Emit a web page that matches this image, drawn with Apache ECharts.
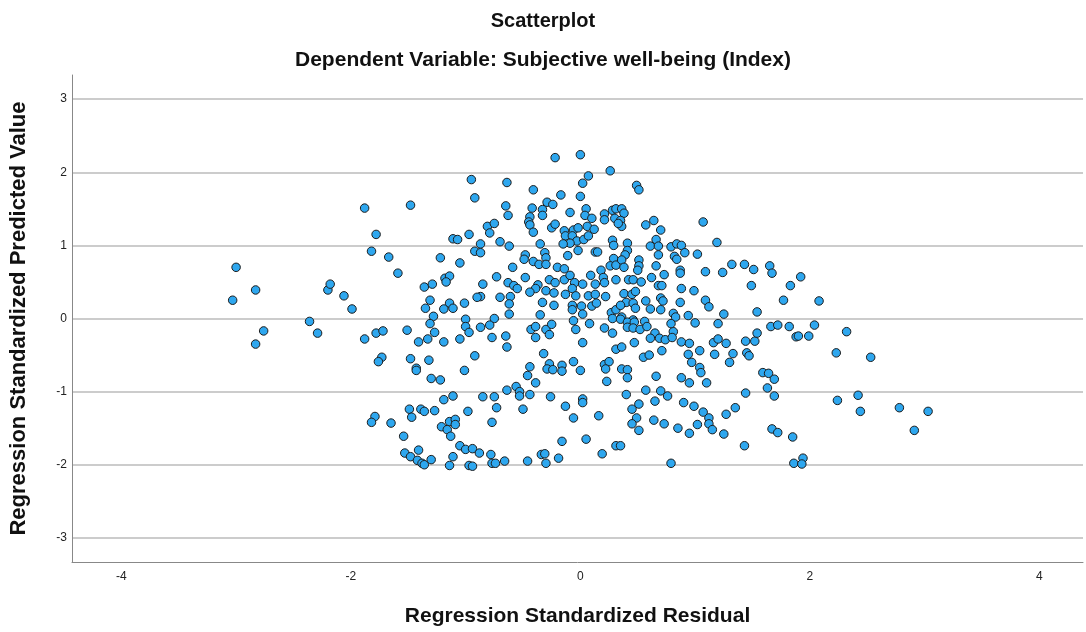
<!DOCTYPE html>
<html>
<head>
<meta charset="utf-8">
<script src="https://cdn.jsdelivr.net/npm/echarts@6/dist/echarts.min.js"></script>
<style>
  html, body { margin: 0; padding: 0; background: #fff; }
  #chart { width: 1086px; height: 632px; }
</style>
</head>
<body>
<div id="chart"></div>
<script>
var chartTitle = 'Scatterplot';
var chartSubtitle = 'Dependent Variable: Subjective well-being (Index)';
var xName = 'Regression Standardized Residual';
var yName = 'Regression Standardized Predicted Value';

// [standardized residual, standardized predicted value]
var points = [
  [-3.00,0.70],[-3.03,0.25],[-1.88,1.51],[-1.48,1.55],[-1.78,1.15],[-1.82,0.92],[-1.67,0.84],[-1.59,0.62],
  [-1.22,0.83],[-2.83,0.39],[-2.20,0.39],[-2.18,0.47],[-2.06,0.31],[-1.99,0.13],[-1.36,0.43],[-1.29,0.47],
  [-1.31,0.25],[-1.35,0.14],[-1.28,0.03],[-1.18,0.55],[-1.14,0.58],[-1.17,0.50],

  [-2.83,-0.35],[-2.76,-0.17],[-2.36,-0.04],[-2.29,-0.20],[-1.88,-0.28],[-1.78,-0.20],[-1.72,-0.17],
  [-1.51,-0.16],[-1.41,-0.32],[-1.33,-0.28],[-1.27,-0.19],[-1.31,-0.07],[-1.73,-0.53],[-1.76,-0.59],
  [-1.48,-0.55],[-1.43,-0.68],[-1.43,-0.71],[-1.32,-0.57],[-1.30,-0.82],[-1.22,-0.84],[-1.79,-1.34],
  [-1.82,-1.42],[-1.65,-1.43],[-1.49,-1.24],[-1.47,-1.35],[-1.39,-1.24],[-1.36,-1.27],[-1.27,-1.26],
  [-1.21,-1.48],[-1.54,-1.61],[-1.53,-1.84],[-1.48,-1.89],[-1.41,-1.80],[-1.42,-1.94],[-1.38,-1.98],
  [-1.36,-2.00],[-1.30,-1.93],

  [-0.22,2.20],[0.00,2.24],[0.26,2.02],[-0.95,1.90],[-0.64,1.86],[-0.92,1.65],[-0.41,1.76],[0.07,1.95],
  [0.02,1.85],[-0.17,1.69],[0.00,1.67],[-0.65,1.54],[-0.63,1.41],[-0.42,1.51],[-0.29,1.59],[-0.24,1.56],
  [-0.33,1.49],[-0.44,1.39],[-0.45,1.32],[-0.44,1.28],[-0.41,1.18],[-0.09,1.45],[-0.33,1.41],[0.05,1.50],
  [0.04,1.41],[0.10,1.37],[0.21,1.43],[0.21,1.35],[0.28,1.48],[0.31,1.50],[0.30,1.37],[-0.81,1.26],
  [-0.75,1.30],[-0.79,1.17],[-0.97,1.15],[-1.11,1.09],[-1.07,1.08],[-0.70,1.05],[-0.62,0.99],[-0.87,1.02],
  [-0.92,0.92],[-0.87,0.90],[-0.25,1.24],[-0.22,1.29],[-0.14,1.20],[-0.06,1.21],[-0.02,1.24],[0.06,1.26],
  [0.12,1.22],[-0.13,1.13],[-0.07,1.13],[-0.03,1.06],[0.03,1.08],[0.07,1.13],[-0.09,1.03],[-0.15,1.02],
  [-0.02,0.93],[-0.35,1.02],[-0.31,0.90],[-0.30,0.83],[-0.11,0.86],[0.13,0.91],[0.15,0.91],[0.28,1.07],
  [0.29,1.00],[0.29,0.82],[-1.05,0.76],[-0.48,0.87],[-0.49,0.81],[-0.41,0.78],[-0.36,0.74],[-0.30,0.74],
  [-0.59,0.70],[-0.20,0.70],[-0.14,0.68],[0.26,0.72],[0.31,0.73],[0.18,0.66],[0.20,0.56],[0.31,0.53],
  [-0.73,0.57],[-0.85,0.47],[-0.48,0.56],[-0.63,0.49],[-0.58,0.45],[-0.55,0.41],[-0.27,0.53],[-0.22,0.49],
  [-0.14,0.53],[-0.09,0.59],[-0.05,0.49],[0.02,0.47],[0.09,0.59],[0.13,0.47],[0.21,0.49],[-0.37,0.46],
  [-0.39,0.41],[-0.44,0.36],[-0.30,0.38],[-0.23,0.35],[-0.13,0.33],[-0.07,0.41],[-0.04,0.31],[0.07,0.31],
  [0.13,0.33],[0.22,0.30],[-0.87,0.30],[-0.90,0.29],[-0.70,0.29],[-0.61,0.30],[-0.62,0.20],[-1.14,0.21],
  [-1.11,0.14],[-1.19,0.13],[-1.01,0.21],[-0.33,0.22],[-0.23,0.18],[-0.07,0.18],[0.01,0.17],[0.10,0.17],
  [0.14,0.21],[0.27,0.08],[0.31,0.12],[-0.35,0.05],[-0.62,0.06],[-0.75,0.00],[-1.00,-0.01],[-0.07,0.12],
  [0.02,0.06],[0.28,0.00],

  [0.49,1.82],[0.51,1.76],[1.07,1.32],[1.19,1.04],[0.36,1.50],[0.38,1.44],[0.35,1.34],[0.36,1.26],
  [0.33,1.30],[0.57,1.28],[0.64,1.34],[0.70,1.21],[0.66,1.08],[0.61,0.99],[0.68,0.99],[0.41,1.03],
  [0.41,0.93],[0.39,0.87],[0.36,0.80],[0.51,0.80],[0.51,0.72],[0.50,0.66],[0.38,0.70],[0.68,0.87],
  [0.79,0.98],[0.84,1.02],[0.88,1.00],[0.91,0.90],[0.82,0.85],[0.84,0.81],[1.02,0.88],[0.66,0.72],
  [0.73,0.60],[0.87,0.66],[0.87,0.62],[1.09,0.64],[1.24,0.63],[1.32,0.74],[1.43,0.74],[1.51,0.67],
  [1.65,0.72],[1.67,0.62],[1.83,0.45],[1.49,0.45],[1.77,0.25],[1.54,0.09],[1.92,0.57],[2.08,0.24],
  [0.42,0.53],[0.46,0.53],[0.53,0.50],[0.62,0.56],[0.68,0.45],[0.71,0.45],[0.88,0.41],[0.99,0.38],
  [0.38,0.34],[0.45,0.33],[0.48,0.37],[0.40,0.22],[0.46,0.21],[0.35,0.18],[0.57,0.24],[0.70,0.28],
  [0.72,0.24],[1.09,0.25],[1.12,0.16],[0.87,0.22],[0.61,0.13],[0.70,0.12],[0.48,0.14],[0.81,0.07],
  [0.83,0.02],[0.94,0.04],[1.25,0.06],[0.36,0.02],[0.46,-0.02],

  [-1.00,-0.11],[-0.97,-0.19],[-1.05,-0.28],[-1.19,-0.32],[-0.87,-0.12],[-0.79,-0.09],[-0.77,-0.26],
  [-0.65,-0.24],[-0.64,-0.39],[-0.92,-0.51],[-1.01,-0.71],[-0.43,-0.15],[-0.39,-0.11],[-0.39,-0.26],
  [-0.30,-0.15],[-0.25,-0.08],[-0.27,-0.22],[-0.06,-0.03],[-0.04,-0.15],[0.08,-0.07],[0.02,-0.33],
  [0.21,-0.13],[0.28,-0.20],[0.31,-0.42],[-0.32,-0.48],[-0.44,-0.66],[-0.46,-0.78],[-0.27,-0.62],
  [-0.29,-0.69],[-0.24,-0.70],[-0.16,-0.64],[-0.16,-0.72],[-0.06,-0.59],[0.00,-0.71],[0.21,-0.63],
  [0.25,-0.59],[0.22,-0.69],[0.23,-0.86],[-0.39,-0.88],[-0.64,-0.98],[-0.56,-0.93],[-0.53,-1.00],
  [-0.53,-1.06],[-0.44,-1.04],[-0.26,-1.07],[-0.85,-1.07],[-0.75,-1.07],[-1.19,-1.11],[-1.11,-1.06],
  [-0.98,-1.27],[-0.73,-1.22],[-0.50,-1.24],[-0.13,-1.20],[0.02,-1.10],[0.02,-1.15],[-0.06,-1.36],
  [0.16,-1.33],[-0.77,-1.42],[-1.14,-1.41],[-1.09,-1.38],[-1.09,-1.45],[-1.16,-1.52],[-1.13,-1.61],
  [-1.05,-1.74],[-1.00,-1.79],[-0.94,-1.78],[-0.88,-1.84],[-1.11,-1.89],[-1.14,-2.01],[-0.97,-2.01],
  [-0.94,-2.02],[-0.78,-1.86],[-0.77,-1.98],[-0.74,-1.98],[-0.66,-1.95],[-0.46,-1.95],[-0.34,-1.86],
  [-0.31,-1.85],[-0.30,-1.98],[-0.19,-1.91],[-0.16,-1.68],[0.05,-1.65],[0.19,-1.85],[0.31,-1.74],

  [0.35,-0.01],[0.41,-0.05],[0.47,-0.05],[0.56,-0.04],[0.41,-0.12],[0.46,-0.13],[0.52,-0.15],[0.58,-0.11],
  [0.65,-0.20],[0.61,-0.27],[0.69,-0.27],[0.74,-0.29],[0.81,-0.18],[0.79,-0.07],[0.80,-0.26],[0.47,-0.33],
  [0.36,-0.39],[0.71,-0.44],[0.55,-0.53],[0.60,-0.50],[0.36,-0.69],[0.41,-0.70],[0.41,-0.81],[0.66,-0.79],
  [0.40,-1.04],[0.57,-0.98],[0.65,-1.13],[0.70,-0.99],[0.76,-1.06],[0.51,-1.17],[0.45,-1.24],

  [0.88,-0.32],[0.95,-0.34],[1.00,-0.06],[1.20,-0.07],[0.94,-0.49],[0.97,-0.60],[1.04,-0.44],[1.16,-0.33],
  [1.20,-0.28],[1.17,-0.49],[1.27,-0.34],[1.33,-0.48],[1.30,-0.60],[1.44,-0.31],[1.52,-0.31],[1.54,-0.20],
  [1.45,-0.47],[1.47,-0.51],[1.66,-0.11],[1.72,-0.09],[1.82,-0.11],[1.88,-0.25],[1.04,-0.67],[1.05,-0.74],
  [1.10,-0.88],[0.88,-0.81],[0.95,-0.88],[1.59,-0.74],[1.64,-0.75],[1.69,-0.83],[1.63,-0.95],[1.69,-1.06],
  [1.44,-1.02],[0.90,-1.15],[0.99,-1.20],[1.07,-1.28],[1.12,-1.36],[1.12,-1.44],[1.15,-1.52],[1.35,-1.22],
  [1.27,-1.31],[0.49,-1.36],[0.45,-1.44],[0.51,-1.53],[0.64,-1.39],[0.73,-1.44],[0.85,-1.50],[0.95,-1.57],
  [1.02,-1.45],[1.25,-1.58],[1.67,-1.51],[1.72,-1.56],[1.85,-1.62],[1.43,-1.74],[0.35,-1.74],[0.79,-1.98],
  [1.86,-1.98],

  [2.04,-0.09],[1.90,-0.24],[1.99,-0.24],[2.32,-0.18],[2.23,-0.47],[2.53,-0.53],[2.24,-1.12],[2.42,-1.05],
  [2.44,-1.27],[2.78,-1.22],[3.03,-1.27],[2.91,-1.53],[1.94,-1.91],[1.93,-1.99]
];

var fontFamily = '"Liberation Sans", Arial, sans-serif';

function integerLabel(value) {
  return Math.abs(value - Math.round(value)) < 1e-6 ? String(Math.round(value)) : '';
}

var option = {
  backgroundColor: '#fff',
  animation: false,
  textStyle: { fontFamily: fontFamily },
  title: [
    {
      text: chartTitle,
      left: 'center',
      top: 11,
      padding: 0,
      textStyle: { fontSize: 20, fontWeight: 'bold', color: '#111', fontFamily: fontFamily }
    },
    {
      text: chartSubtitle,
      left: 'center',
      top: 50,
      padding: 0,
      textStyle: { fontSize: 21, fontWeight: 'bold', color: '#111', fontFamily: fontFamily }
    }
  ],
  grid: {
    left: 71,
    right: 0,
    top: 75,
    bottom: 69
  },
  xAxis: {
    type: 'value',
    min: -4.43,
    max: 4.38,
    splitNumber: 4,
    name: xName,
    nameLocation: 'middle',
    nameGap: 44,
    nameTextStyle: { fontSize: 21, fontWeight: 'bold', color: '#111', fontFamily: fontFamily },
    axisLine: { show: true, onZero: false, lineStyle: { color: '#888', width: 1 } },
    axisTick: { show: false },
    splitLine: { show: false },
    axisLabel: {
      color: '#222',
      fontSize: 12,
      margin: 9,
      formatter: integerLabel
    }
  },
  yAxis: {
    type: 'value',
    min: -3.33,
    max: 3.33,
    splitNumber: 7,
    name: yName,
    nameLocation: 'middle',
    nameRotate: 90,
    nameGap: 42,
    nameTextStyle: { fontSize: 22, fontWeight: 'bold', color: '#111', fontFamily: fontFamily },
    axisLine: { show: true, onZero: false, lineStyle: { color: '#888', width: 1 } },
    axisTick: { show: false },
    splitLine: {
      show: true,
      showMinLine: false,
      showMaxLine: false,
      lineStyle: { color: '#cccccc', width: 2 }
    },
    axisLabel: {
      color: '#222',
      fontSize: 12,
      margin: 5,
      formatter: integerLabel
    }
  },
  series: [
    {
      type: 'scatter',
      data: points,
      symbol: 'circle',
      symbolSize: 8.5,
      itemStyle: {
        color: '#2ea7ef',
        borderColor: '#1c1c1c',
        borderWidth: 1,
        opacity: 1
      }
    }
  ]
};

echarts.init(document.getElementById('chart')).setOption(option);
</script>
</body>
</html>
